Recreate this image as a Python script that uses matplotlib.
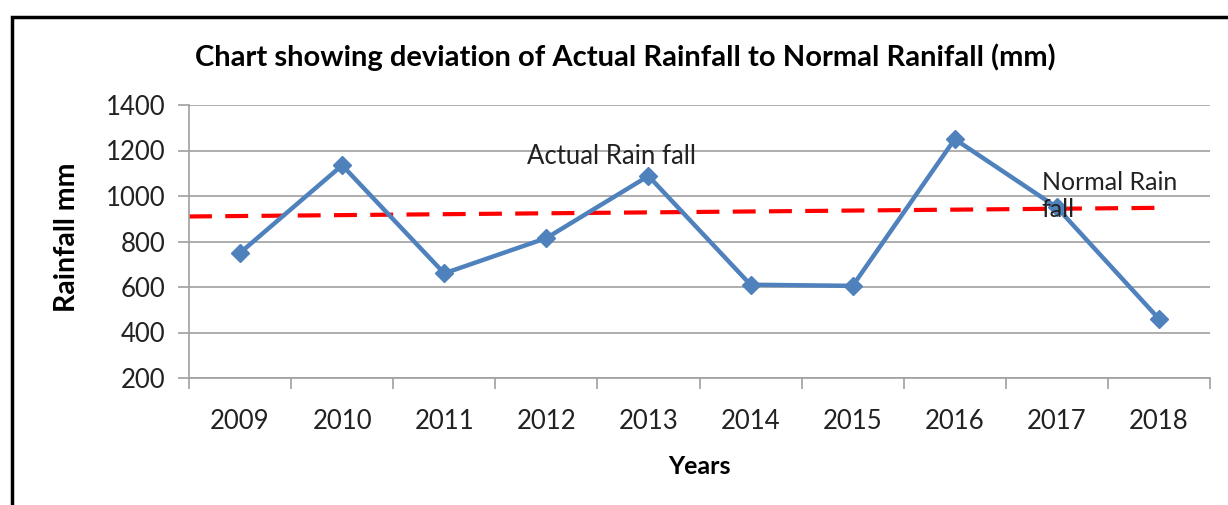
import matplotlib
matplotlib.use("Agg")
import matplotlib.pyplot as plt
from matplotlib.patches import Rectangle
import numpy as np

years = ["2009", "2010", "2011", "2012", "2013", "2014", "2015", "2016", "2017", "2018"]
actual_rainfall = [750, 1135, 660, 815, 1088, 610, 605, 1250, 950, 460]
normal_years_pos = [-0.5, 9]          # normal line drawn from axis start to last year
normal_rainfall = [910, 948]
yticks = [200, 400, 600, 800, 1000, 1200, 1400]

plt.rcParams['font.family'] = ['Lato', 'DejaVu Sans']

W, H = 1228, 505
fig = plt.figure(figsize=(W / 100, H / 100), dpi=100)
ax = fig.add_axes([189 / W, 1 - 378 / H, (1210 - 189) / W, (378 - 105) / H])

x = np.arange(len(years))
grid_c = "#a0a0a0"
for v in yticks:
    ax.axhline(v, color=grid_c, lw=1.2, zorder=0)

ax.plot(normal_years_pos, normal_rainfall, color="#ff0000", lw=3, dashes=(5.5, 3.2), zorder=2)
ax.plot(x, actual_rainfall, color="#4f81bd", lw=3.2, marker="D", markersize=9, zorder=3)

ax.set_xlim(-0.5, len(years) - 0.5)
ax.set_ylim(200, 1400)
ax.set_yticks(yticks)
ax.set_yticklabels([str(v) for v in yticks], fontsize=18.5, color="#222222")
ax.set_xticks(x)
ax.set_xticklabels(years, fontsize=18.5, color="#222222")
ax.set_xticks(np.arange(-0.5, len(years) + 0.5, 1), minor=True)
ax.tick_params(axis="x", which="major", length=0, pad=22)
ax.tick_params(axis="x", which="minor", length=8, color=grid_c, width=1.2)
ax.tick_params(axis="y", length=8, color=grid_c, width=1.2, pad=9)
for s in ["top", "right"]:
    ax.spines[s].set_visible(False)
for s in ["left", "bottom"]:
    ax.spines[s].set_color(grid_c)
    ax.spines[s].set_linewidth(1.2)

fig.text(67 / W, 1 - 237 / H, "Rainfall mm", fontsize=20.5, fontweight="bold",
         ha="center", va="center", rotation=90)
fig.text(699 / W, 1 - 467 / H, "Years", fontsize=18, fontweight="bold", ha="center", va="center")
fig.text(625 / W, 1 - 57 / H,
         "Chart showing deviation of Actual Rainfall to Normal Ranifall (mm)",
         fontsize=21, fontweight="bold", ha="center", va="center")

ax.text(3.64, 1172, "Actual Rain fall", fontsize=18.5, ha="center", va="center",
        color="#222222")
ax.text(8 - 0.15, 1000, "Normal Rain\nfall", fontsize=18, ha="left", va="center",
        color="#222222", linespacing=1.25)

fig.patches.append(Rectangle((12 / W, -0.1), 1.2, 1 - 17 / H + 0.1, transform=fig.transFigure,
                             fill=False, edgecolor="black", lw=2.5))

fig.savefig("out.png", dpi=100)
